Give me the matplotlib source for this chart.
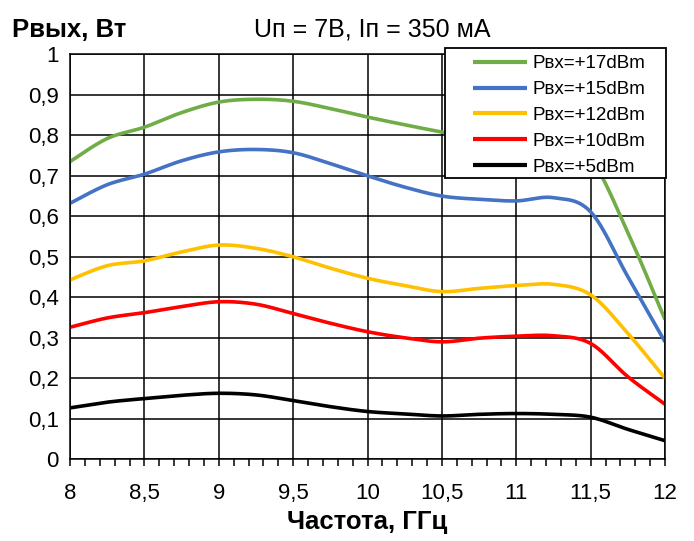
import numpy as np
import matplotlib
matplotlib.use("Agg")
import matplotlib.pyplot as plt
from matplotlib.patches import Rectangle
from matplotlib.ticker import MultipleLocator, FuncFormatter

plt.rcParams['font.family'] = ['Liberation Sans', 'DejaVu Sans']

freq = [8.0, 8.25, 8.5, 8.75, 9.0, 9.25, 9.5, 9.75, 10.0, 10.25, 10.5,
        10.75, 11.0, 11.25, 11.5, 11.75, 12.0]

p17 = [0.735, 0.792, 0.820, 0.856, 0.882, 0.889, 0.884, 0.866, 0.845, 0.826,
       0.808, 0.792, 0.778, 0.765, 0.740, 0.560, 0.345]
p15 = [0.632, 0.678, 0.704, 0.737, 0.759, 0.765, 0.757, 0.730, 0.700, 0.672,
       0.650, 0.642, 0.638, 0.646, 0.611, 0.451, 0.290]
p12 = [0.443, 0.478, 0.490, 0.512, 0.529, 0.521, 0.500, 0.472, 0.447, 0.429,
       0.414, 0.422, 0.429, 0.432, 0.406, 0.311, 0.200]
p10 = [0.326, 0.349, 0.362, 0.377, 0.389, 0.383, 0.360, 0.336, 0.315, 0.300,
       0.290, 0.299, 0.304, 0.305, 0.286, 0.204, 0.136]
p5 = [0.127, 0.141, 0.150, 0.158, 0.163, 0.159, 0.145, 0.130, 0.118, 0.112,
      0.107, 0.111, 0.113, 0.111, 0.104, 0.074, 0.046]

series = [
    ("Pвх=+17dBm", p17, "#70AD47"),
    ("Pвх=+15dBm", p15, "#4472C4"),
    ("Pвх=+12dBm", p12, "#FFC000"),
    ("Pвх=+10dBm", p10, "#FF0000"),
    ("Pвх=+5dBm", p5, "#000000"),
]


def smooth(x, y, n=30):
    # excel-like smoothed line: bezier with catmull-rom control points
    x = np.asarray(x, float)
    y = np.asarray(y, float)
    px = np.concatenate([[x[0]], x, [x[-1]]])
    py = np.concatenate([[y[0]], y, [y[-1]]])
    t = np.linspace(0, 1, n)
    xs, ys = [], []
    for i in range(1, len(px) - 2):
        p0 = np.array([px[i], py[i]])
        p3 = np.array([px[i + 1], py[i + 1]])
        c1 = p0 + (p3 - np.array([px[i - 1], py[i - 1]])) / 6
        c2 = p3 - (np.array([px[i + 2], py[i + 2]]) - p0) / 6
        b = ((1 - t) ** 3)[:, None] * p0 + (3 * (1 - t) ** 2 * t)[:, None] * c1 \
            + (3 * (1 - t) * t ** 2)[:, None] * c2 + (t ** 3)[:, None] * p3
        xs.append(b[:, 0])
        ys.append(b[:, 1])
    return np.concatenate(xs), np.concatenate(ys)


W, H = 694, 541
fig = plt.figure(figsize=(W / 100, H / 100), dpi=100)
ax = fig.add_axes([70 / W, 1 - 459.3 / H, 595 / W, 405 / H])

for label, vals, col in series:
    sx, sy = smooth(freq, vals)
    ax.plot(sx, sy, color=col, lw=2.6, label=label, solid_capstyle='butt')

ax.set_xlim(8, 12)
ax.set_ylim(0, 1)
ax.xaxis.set_major_locator(MultipleLocator(0.5))
ax.xaxis.set_minor_locator(MultipleLocator(0.1))
ax.yaxis.set_major_locator(MultipleLocator(0.1))
fmt = FuncFormatter(lambda v, p: ('%g' % round(v, 2)).replace('.', ','))
ax.xaxis.set_major_formatter(fmt)
ax.yaxis.set_major_formatter(fmt)
ax.grid(True, color='black', lw=1.1)
ax.set_axisbelow(True)
for s in ax.spines.values():
    s.set_color('black')
    s.set_linewidth(1.1)
ax.tick_params(axis='x', which='both', direction='out', length=5, width=1.1,
               labelsize=16, pad=12)
ax.tick_params(axis='y', length=0, labelsize=16, pad=8)

# legend box drawn by hand (wide white frame like the excel one)
box = Rectangle((445 / W, 1 - 178 / H), 221 / W, 130 / H,
                transform=fig.transFigure, facecolor='white',
                edgecolor='black', lw=1.3, zorder=4.5, clip_on=False)
ax.add_patch(box)
leg = ax.legend(loc='upper left', bbox_to_anchor=(473 / W, 1 - 55 / H),
                bbox_transform=fig.transFigure, fontsize=13.5,
                frameon=False, handlelength=2.9,
                borderpad=0, labelspacing=0.47, handletextpad=0.25,
                borderaxespad=0)
leg.set_zorder(6)
for ln in leg.get_lines():
    ln.set_linewidth(3)

fig.text(12 / W, 1 - 30 / H, "Рвых, Вт", fontsize=18.5, fontweight='bold',
         va='center', ha='left')
fig.text(372 / W, 1 - 29 / H, "Uп = 7В, Iп = 350 мА", fontsize=18,
         va='center', ha='center')
fig.text(367 / W, 1 - 522 / H, "Частота, ГГц", fontsize=18.5, fontweight='bold',
         va='center', ha='center')

fig.savefig("out.png", dpi=100)
